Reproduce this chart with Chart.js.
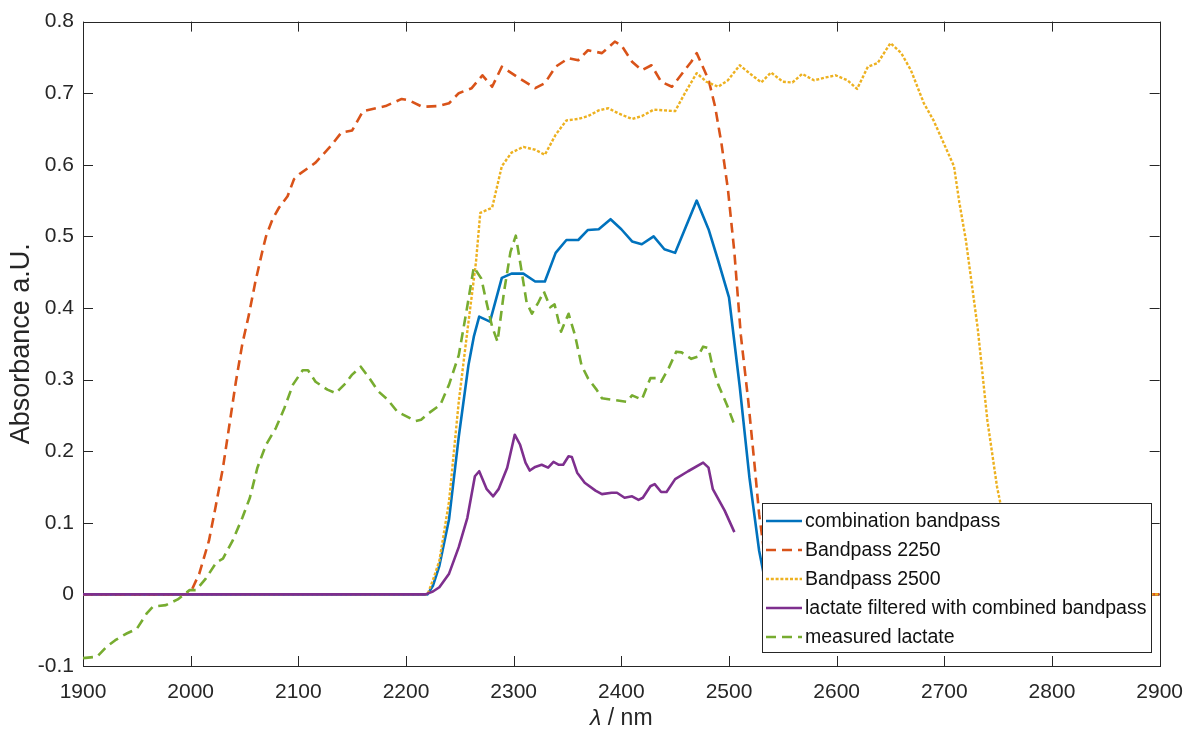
<!DOCTYPE html>
<html>
<head>
<meta charset="utf-8">
<script src="https://cdn.jsdelivr.net/npm/chart.js@4/dist/chart.umd.min.js"></script>
<style>
  html, body { margin: 0; padding: 0; background: #ffffff; }
  #wrap { width: 1197px; height: 742px; }
</style>
</head>
<body>
<div id="wrap"><canvas id="c" width="1197" height="742"></canvas></div>
<script>
// Axis ticks
const xTickValues = [1900, 2000, 2100, 2200, 2300, 2400, 2500, 2600, 2700, 2800, 2900];
const xTickLabels = ['1900', '2000', '2100', '2200', '2300', '2400', '2500', '2600', '2700', '2800', '2900'];
const yTickValues = [-0.1, 0, 0.1, 0.2, 0.3, 0.4, 0.5, 0.6, 0.7, 0.8];
const yTickLabels = ['-0.1', '0', '0.1', '0.2', '0.3', '0.4', '0.5', '0.6', '0.7', '0.8'];

// combination bandpass
const combWl  = [1900, 2220, 2225, 2231, 2240, 2249, 2258, 2263, 2268, 2278, 2289, 2298, 2309, 2320, 2329, 2339, 2349, 2360, 2369, 2379, 2390, 2400, 2410, 2419, 2430, 2440, 2450, 2459, 2470, 2481, 2490, 2500, 2510, 2519, 2528, 2536, 2900];
const combAbs = [0, 0, 0.012, 0.04, 0.105, 0.22, 0.32, 0.36, 0.388, 0.381, 0.442, 0.448, 0.448, 0.437, 0.437, 0.477, 0.495, 0.495, 0.509, 0.51, 0.524, 0.51, 0.493, 0.489, 0.5, 0.482, 0.477, 0.51, 0.55, 0.51, 0.466, 0.415, 0.29, 0.163, 0.061, 0, 0];

// Bandpass 2250
const bp2250Wl  = [1900, 1995, 2000, 2008, 2017, 2023, 2030, 2036, 2042, 2048, 2054, 2060, 2067, 2070, 2076, 2082, 2090, 2096, 2101, 2116, 2130, 2140, 2150, 2160, 2181, 2196, 2203, 2215, 2230, 2240, 2249, 2261, 2271, 2280, 2289, 2305, 2320, 2329, 2339, 2351, 2360, 2369, 2382, 2394, 2400, 2410, 2419, 2428, 2437, 2447, 2465, 2470, 2481, 2487, 2493, 2499, 2505, 2511, 2518, 2524, 2528, 2534, 2540, 2900];
const bp2250Abs = [0, 0, 0.003, 0.029, 0.075, 0.121, 0.177, 0.237, 0.297, 0.35, 0.39, 0.436, 0.482, 0.5, 0.524, 0.54, 0.556, 0.58, 0.587, 0.603, 0.626, 0.645, 0.648, 0.675, 0.682, 0.692, 0.69, 0.681, 0.682, 0.686, 0.7, 0.707, 0.725, 0.709, 0.737, 0.721, 0.707, 0.714, 0.737, 0.749, 0.746, 0.76, 0.756, 0.772, 0.767, 0.744, 0.732, 0.739, 0.716, 0.709, 0.744, 0.756, 0.719, 0.682, 0.63, 0.566, 0.478, 0.362, 0.269, 0.177, 0.112, 0.045, 0, 0];

// Bandpass 2500
const bp2500Wl  = [1900, 2220, 2225, 2231, 2240, 2249, 2258, 2265, 2269, 2280, 2289, 2298, 2309, 2320, 2329, 2339, 2349, 2360, 2369, 2379, 2388, 2397, 2410, 2419, 2430, 2440, 2450, 2459, 2470, 2479, 2490, 2499, 2510, 2519, 2530, 2539, 2550, 2559, 2568, 2579, 2590, 2599, 2610, 2619, 2629, 2638, 2650, 2660, 2669, 2681, 2690, 2698, 2709, 2714, 2720, 2731, 2740, 2749, 2752, 2760, 2770, 2780, 2790, 2900];
const bp2500Abs = [0, 0, 0.02, 0.047, 0.13, 0.269, 0.38, 0.464, 0.533, 0.54, 0.598, 0.617, 0.625, 0.621, 0.614, 0.642, 0.662, 0.664, 0.668, 0.676, 0.679, 0.672, 0.664, 0.668, 0.677, 0.676, 0.675, 0.7, 0.728, 0.716, 0.709, 0.718, 0.739, 0.728, 0.715, 0.729, 0.716, 0.715, 0.727, 0.718, 0.722, 0.725, 0.718, 0.706, 0.737, 0.742, 0.77, 0.756, 0.732, 0.686, 0.662, 0.635, 0.598, 0.547, 0.495, 0.372, 0.243, 0.15, 0.128, 0.07, 0.03, 0.01, 0, 0];

// lactate filtered with combined bandpass
const lacFiltWl  = [1900, 2218, 2225, 2231, 2240, 2249, 2257, 2264, 2268, 2275, 2281, 2286, 2294, 2301, 2306, 2311, 2315, 2320, 2326, 2332, 2337, 2342, 2346, 2351, 2354, 2359, 2366, 2376, 2382, 2391, 2396, 2403, 2410, 2416, 2420, 2427, 2431, 2437, 2442, 2450, 2462, 2476, 2481, 2485, 2496, 2505];
const lacFiltAbs = [0, 0, 0.004, 0.01, 0.029, 0.066, 0.107, 0.165, 0.172, 0.147, 0.137, 0.147, 0.177, 0.223, 0.209, 0.184, 0.173, 0.178, 0.181, 0.177, 0.185, 0.181, 0.181, 0.193, 0.192, 0.17, 0.156, 0.145, 0.14, 0.142, 0.142, 0.135, 0.137, 0.132, 0.135, 0.151, 0.154, 0.143, 0.143, 0.161, 0.172, 0.184, 0.177, 0.147, 0.117, 0.087];

// measured lactate
const lacMeasWl  = [1900, 1913, 1922, 1930, 1940, 1950, 1959, 1965, 1977, 1988, 1999, 2005, 2014, 2024, 2030, 2039, 2048, 2055, 2062, 2070, 2079, 2087, 2095, 2104, 2109, 2116, 2127, 2135, 2138, 2144, 2150, 2158, 2166, 2174, 2183, 2192, 2200, 2209, 2214, 2221, 2232, 2240, 2249, 2256, 2263, 2270, 2274, 2280, 2285, 2291, 2297, 2302, 2307, 2312, 2317, 2323, 2328, 2334, 2338, 2344, 2351, 2357, 2363, 2369, 2377, 2382, 2391, 2405, 2410, 2419, 2427, 2433, 2437, 2444, 2451, 2456, 2465, 2471, 2476, 2481, 2484, 2490, 2498, 2505];
const lacMeasAbs = [-0.089, -0.087, -0.073, -0.064, -0.055, -0.048, -0.027, -0.017, -0.015, -0.007, 0.006, 0.006, 0.022, 0.045, 0.05, 0.075, 0.107, 0.135, 0.177, 0.209, 0.232, 0.26, 0.293, 0.313, 0.313, 0.297, 0.286, 0.281, 0.286, 0.295, 0.307, 0.318, 0.302, 0.284, 0.272, 0.255, 0.249, 0.242, 0.244, 0.253, 0.265, 0.293, 0.334, 0.394, 0.457, 0.441, 0.413, 0.374, 0.353, 0.422, 0.478, 0.501, 0.455, 0.408, 0.392, 0.408, 0.423, 0.401, 0.405, 0.367, 0.392, 0.362, 0.32, 0.302, 0.286, 0.274, 0.272, 0.269, 0.278, 0.272, 0.302, 0.302, 0.297, 0.316, 0.339, 0.338, 0.329, 0.332, 0.346, 0.344, 0.323, 0.293, 0.265, 0.237];

const FONT = "'Liberation Sans', Arial, Helvetica, sans-serif";
const AXIS_COLOR = '#262626';

const pairs = (xs, ys) => xs.map((x, i) => ({ x: x, y: ys[i] }));

// Box round the axes with inward ticks on all four sides
const framePlugin = {
  id: 'frame',
  beforeDatasetsDraw(chart) {
    const { ctx, chartArea: a, scales } = chart;
    const len = 10;
    ctx.save();
    ctx.strokeStyle = AXIS_COLOR;
    ctx.lineWidth = 1;
    ctx.beginPath();
    xTickValues.forEach(v => {
      const px = Math.round(scales.x.getPixelForValue(v)) + 0.5;
      ctx.moveTo(px, a.bottom); ctx.lineTo(px, a.bottom - len);
      ctx.moveTo(px, a.top); ctx.lineTo(px, a.top + len);
    });
    yTickValues.forEach(v => {
      const py = Math.round(scales.y.getPixelForValue(v)) + 0.5;
      ctx.moveTo(a.left, py); ctx.lineTo(a.left + len, py);
      ctx.moveTo(a.right, py); ctx.lineTo(a.right - len, py);
    });
    ctx.stroke();
    ctx.strokeRect(Math.round(a.left) + 0.5, Math.round(a.top) + 0.5,
                   Math.round(a.right - a.left), Math.round(a.bottom - a.top));
    ctx.restore();
  }
};

// Legend box in the lower right corner of the axes
const boxLegendPlugin = {
  id: 'boxLegend',
  afterDatasetsDraw(chart) {
    const { ctx } = chart;
    const order = chart.data.datasets;
    const box = { x: 762.5, y: 503.5, w: 389, h: 149 };
    const rowH = 29, firstRow = 521;
    ctx.save();
    ctx.fillStyle = '#ffffff';
    ctx.fillRect(box.x, box.y, box.w, box.h);
    ctx.strokeStyle = AXIS_COLOR;
    ctx.lineWidth = 1;
    ctx.strokeRect(box.x, box.y, box.w, box.h);
    ctx.font = '19.5px ' + FONT;
    ctx.textBaseline = 'middle';
    ctx.textAlign = 'left';
    order.forEach((ds, i) => {
      const y = firstRow + i * rowH;
      ctx.save();
      ctx.strokeStyle = ds.borderColor;
      ctx.lineWidth = ds.borderWidth;
      ctx.setLineDash(ds.borderDash || []);
      ctx.beginPath();
      ctx.moveTo(766, y);
      ctx.lineTo(802, y);
      ctx.stroke();
      ctx.restore();
      ctx.fillStyle = '#111111';
      ctx.fillText(ds.label, 805, y + 1);
    });
    ctx.restore();
  }
};

// x-axis title with an italic lambda
const xTitlePlugin = {
  id: 'xTitle',
  afterDraw(chart) {
    const { ctx, chartArea: a } = chart;
    const cx = (a.left + a.right) / 2;
    const y = 719;
    const italic = 'italic 23px ' + FONT;
    const normal = '23px ' + FONT;
    ctx.save();
    ctx.fillStyle = AXIS_COLOR;
    ctx.textBaseline = 'middle';
    ctx.font = italic;
    const w1 = ctx.measureText('\u03bb').width;
    ctx.font = normal;
    const rest = ' / nm';
    const w2 = ctx.measureText(rest).width;
    let x = cx - (w1 + w2) / 2;
    ctx.textAlign = 'left';
    ctx.font = italic;
    ctx.fillText('\u03bb', x, y);
    ctx.font = normal;
    ctx.fillText(rest, x + w1, y);
    ctx.restore();
  }
};

const datasets = [
  { label: 'combination bandpass', data: pairs(combWl, combAbs),
    borderColor: '#0072BD', borderWidth: 2.6, borderDash: [], order: 5 },
  { label: 'Bandpass 2250', data: pairs(bp2250Wl, bp2250Abs),
    borderColor: '#D95319', borderWidth: 2.6, borderDash: [10, 6], order: 4 },
  { label: 'Bandpass 2500', data: pairs(bp2500Wl, bp2500Abs),
    borderColor: '#EDB120', borderWidth: 2.4, borderDash: [3, 1.8], order: 3 },
  { label: 'lactate filtered with combined bandpass', data: pairs(lacFiltWl, lacFiltAbs),
    borderColor: '#7E2F8E', borderWidth: 2.6, borderDash: [], order: 2 },
  { label: 'measured lactate', data: pairs(lacMeasWl, lacMeasAbs),
    borderColor: '#77AC30', borderWidth: 2.6, borderDash: [10, 6], order: 1 }
];
datasets.forEach(d => {
  d.fill = false;
  d.pointRadius = 0;
  d.pointHoverRadius = 0;
  d.tension = 0;
  d.borderJoinStyle = 'round';
  d.borderCapStyle = 'butt';
  d.backgroundColor = d.borderColor;
});

new Chart(document.getElementById('c'), {
  type: 'line',
  data: { datasets: datasets },
  options: {
    responsive: false,
    animation: false,
    devicePixelRatio: 1,
    layout: { padding: { left: 0, top: 18, right: 34, bottom: 0 } },
    plugins: { legend: { display: false }, tooltip: { enabled: false } },
    scales: {
      x: {
        type: 'linear', min: 1900, max: 2900,
        afterBuildTicks: s => { s.ticks = xTickValues.map(v => ({ value: v })); },
        afterFit: s => { s.height = 76; },
        grid: { display: false, drawTicks: false },
        border: { display: false },
        ticks: {
          autoSkip: false, maxRotation: 0, padding: 14,
          color: AXIS_COLOR, font: { family: FONT, size: 21 },
          callback: (v, i) => xTickLabels[i]
        }
      },
      y: {
        type: 'linear', min: -0.1, max: 0.8,
        afterBuildTicks: s => { s.ticks = yTickValues.map(v => ({ value: v })); },
        afterFit: s => { s.width = 83; },
        grid: { display: false, drawTicks: false },
        border: { display: false },
        ticks: {
          autoSkip: false, padding: 9,
          color: AXIS_COLOR, font: { family: FONT, size: 21 },
          callback: (v, i) => yTickLabels[i]
        },
        title: {
          display: true, text: 'Absorbance a.U.',
          color: AXIS_COLOR, font: { family: FONT, size: 27 },
          padding: { top: 5, bottom: 0 }
        }
      }
    }
  },
  plugins: [framePlugin, boxLegendPlugin, xTitlePlugin]
});
</script>
</body>
</html>
